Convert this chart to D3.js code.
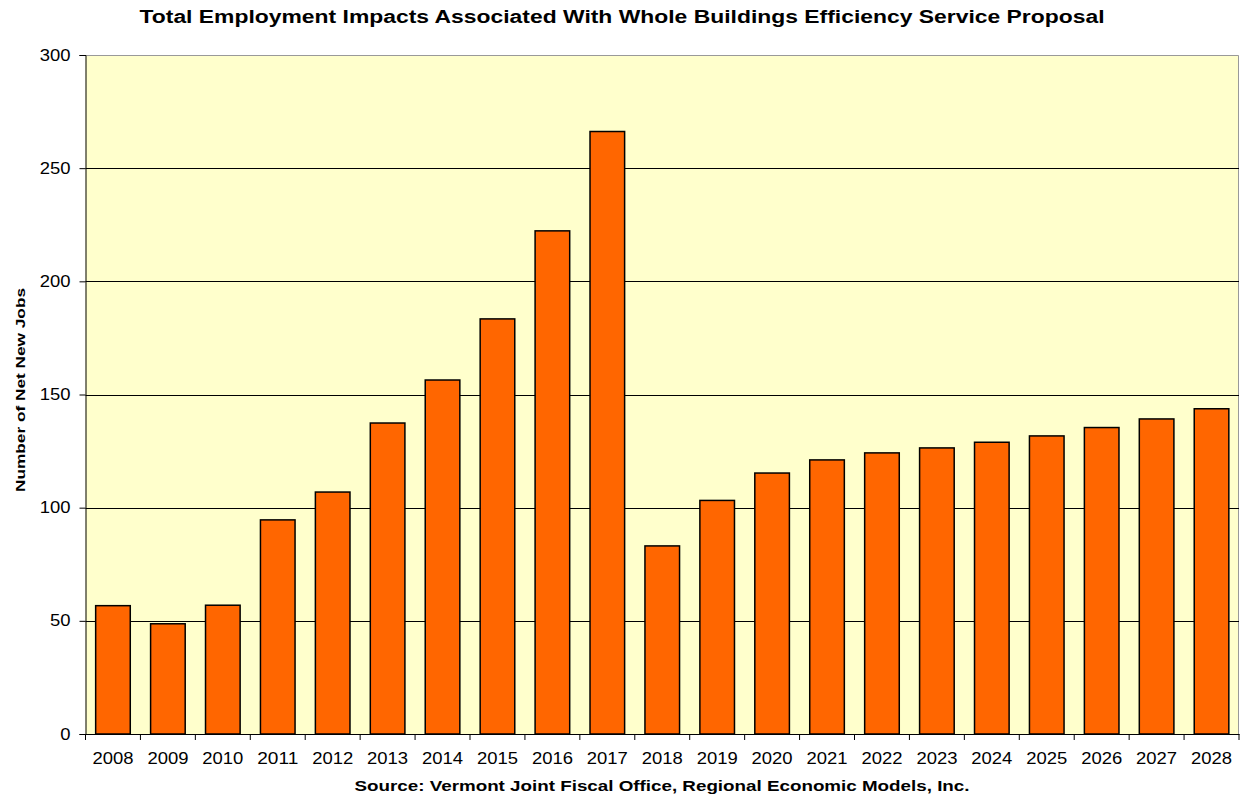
<!DOCTYPE html>
<html>
<head>
<meta charset="utf-8">
<script src="https://cdn.jsdelivr.net/npm/d3@7"></script>
<style>
  body { margin: 0; background: #fff; }
  text { font-family: "Liberation Sans", Arial, sans-serif; }
</style>
</head>
<body>
<svg id="svg" width="1240" height="794"></svg>
<script>
var years = ["2008","2009","2010","2011","2012","2013","2014","2015","2016","2017","2018",
             "2019","2020","2021","2022","2023","2024","2025","2026","2027","2028"];
var jobs = [56.7, 48.7, 56.9, 94.6, 106.9, 137.4, 156.4, 183.4, 222.3, 266.2, 83.1,
            103.2, 115.3, 121.1, 124.2, 126.4, 128.9, 131.7, 135.4, 139.2, 143.7];
var yTicks = [0, 50, 100, 150, 200, 250, 300];

var svg = d3.select("#svg");
var plotLeft = 85.5, plotRight = 1239, plotTop = 55, plotBottom = 734;

var x = d3.scaleBand().domain(years).range([plotLeft, plotRight]).paddingInner(0.37).paddingOuter(0.185);
var y = d3.scaleLinear().domain([0, 300]).range([plotBottom, plotTop]);

// plot background
svg.append("rect")
    .attr("x", plotLeft).attr("y", plotTop)
    .attr("width", plotRight - plotLeft).attr("height", plotBottom - plotTop)
    .attr("fill", "#FFFFCC");

// top / right border
svg.append("path")
    .attr("d", "M" + plotLeft + "," + (plotTop + 0.5) + "H" + (plotRight - 0.5) + "V" + plotBottom)
    .attr("fill", "none").attr("stroke", "#999").attr("stroke-width", 1);

// gridlines
svg.append("g").selectAll("line")
    .data(yTicks.filter(function (d) { return d > 0 && d < 300; }))
    .enter().append("line")
    .attr("x1", plotLeft).attr("x2", plotRight)
    .attr("y1", function (d) { return Math.round(y(d)) + 0.5; })
    .attr("y2", function (d) { return Math.round(y(d)) + 0.5; })
    .attr("stroke", "#000").attr("stroke-width", 1);

// bars
svg.append("g").selectAll("rect")
    .data(jobs)
    .enter().append("rect")
    .attr("x", function (d, i) { return x(years[i]); })
    .attr("y", function (d) { return y(d); })
    .attr("width", x.bandwidth())
    .attr("height", function (d) { return plotBottom - y(d); })
    .attr("fill", "#FF6600")
    .attr("stroke", "#000").attr("stroke-width", 1.5);

// labels look slightly wide in the original, stretch them a bit
function stretch(sel) {
    sel.style("font-size", "16px").attr("fill", "#000")
        .attr("textLength", function () { return this.textContent.length * 10.25; })
        .attr("lengthAdjust", "spacingAndGlyphs");
}

// y axis
var yAxis = svg.append("g")
    .attr("transform", "translate(" + plotLeft + ",0)")
    .call(d3.axisLeft(y).tickValues(yTicks).tickSize(6).tickPadding(9));
yAxis.selectAll("text").call(stretch);
yAxis.selectAll("line,path").attr("stroke", "#000");

// x axis with ticks between categories
var xAxis = svg.append("g")
    .attr("transform", "translate(0," + plotBottom + ")")
    .call(d3.axisBottom(x).tickSize(0).tickPadding(18.5));
xAxis.selectAll("text").call(stretch);
xAxis.select(".domain").attr("stroke", "#000");
var step = x.step();
svg.append("g").selectAll("line")
    .data(d3.range(years.length + 1))
    .enter().append("line")
    .attr("x1", function (i) { return plotLeft + i * step; })
    .attr("x2", function (i) { return plotLeft + i * step; })
    .attr("y1", plotBottom).attr("y2", plotBottom + 6)
    .attr("stroke", "#000");

// titles
svg.append("text")
    .attr("x", 622).attr("y", 23)
    .attr("text-anchor", "middle")
    .attr("textLength", 965).attr("lengthAdjust", "spacingAndGlyphs")
    .style("font-size", "18px").style("font-weight", "bold")
    .text("Total Employment Impacts Associated With Whole Buildings Efficiency Service Proposal");

svg.append("text")
    .attr("transform", "translate(24.5,390) rotate(-90)")
    .attr("text-anchor", "middle")
    .attr("textLength", 204).attr("lengthAdjust", "spacingAndGlyphs")
    .style("font-size", "12.5px").style("font-weight", "bold")
    .text("Number of Net New Jobs");

svg.append("text")
    .attr("x", 662).attr("y", 791)
    .attr("text-anchor", "middle")
    .attr("textLength", 615).attr("lengthAdjust", "spacingAndGlyphs")
    .style("font-size", "15px").style("font-weight", "bold")
    .text("Source:  Vermont Joint Fiscal Office, Regional Economic Models, Inc.");
</script>
</body>
</html>
